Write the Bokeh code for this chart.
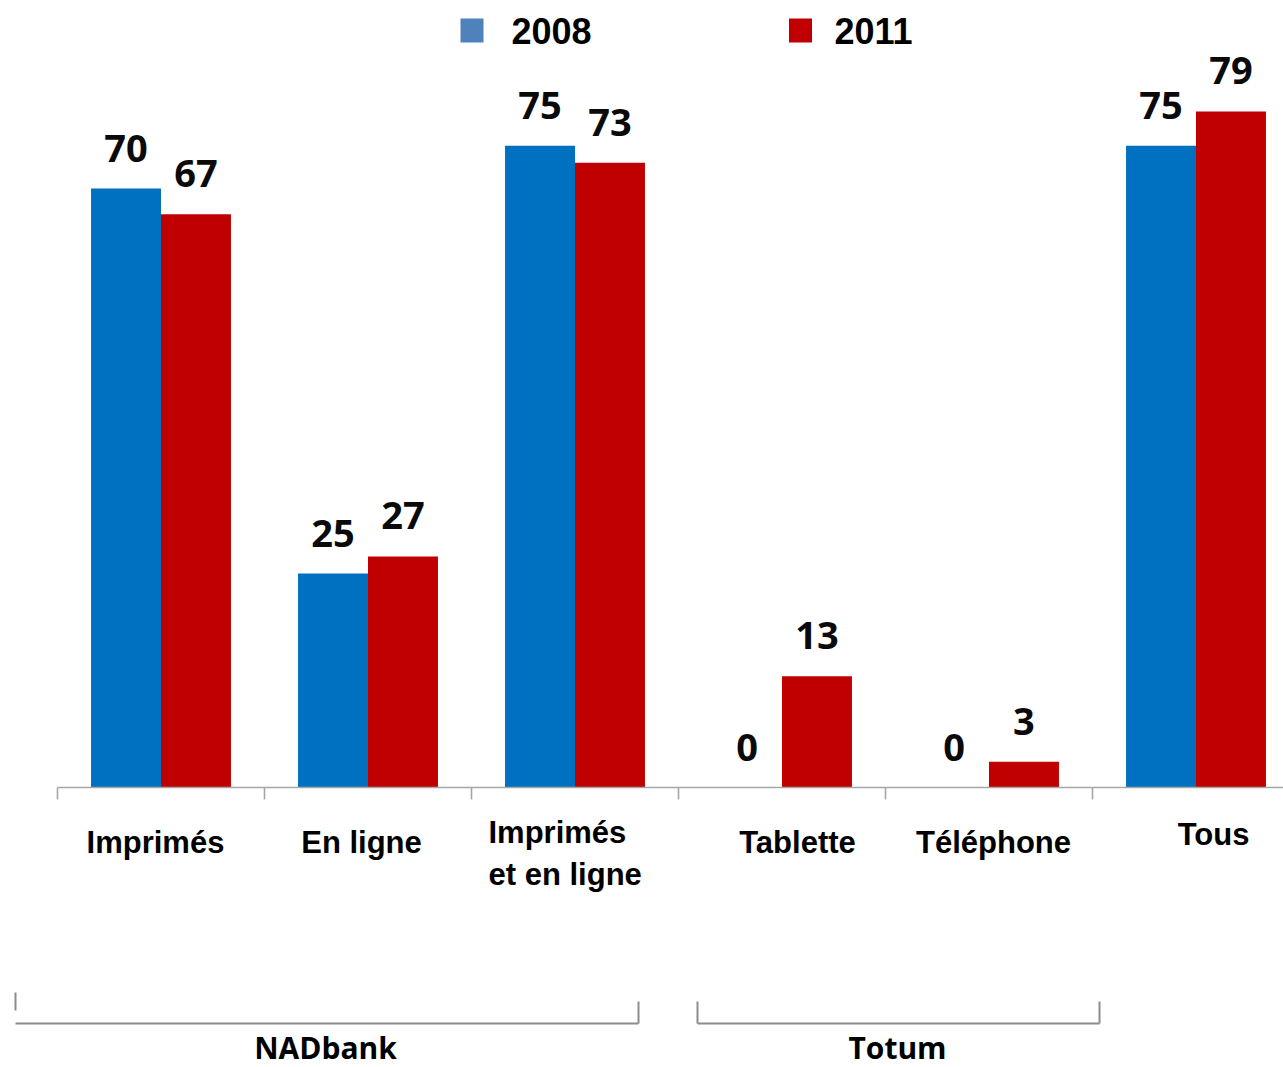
from bokeh.plotting import figure
from bokeh.models import Range1d, ColumnDataSource
from bokeh.core.properties import value
from bokeh.embed import file_html
from bokeh.resources import INLINE

# Readership (%) by platform, 2008 vs 2011
categories = ["Imprimés", "En ligne", "Imprimés\net en ligne", "Tablette", "Téléphone", "Tous"]
values_2008 = [70, 25, 75, 0, 0, 75]
values_2011 = [67, 27, 73, 13, 3, 79]
series_names = ["2008", "2011"]
groups = ["NADbank", "Totum"]

BLUE = "#0070C0"
RED = "#C00000"
GREY = "#A6A6A6"

W, H = 1283, 1067
# canvas geometry: category width in px, left edge of first category, baseline and scale
CAT_PX = 207.0
LEFT_PX = 57.0
BASE_PX = 787.0
PX_PER_UNIT = 8.557


def X(px):
    return (px - LEFT_PX) / CAT_PX


def Y(px):
    return (BASE_PX - px) / PX_PER_UNIT


p = figure(width=W, height=H, output_backend="svg", toolbar_location=None,
           x_range=Range1d(X(0), X(W)), y_range=Range1d(Y(H), Y(0)),
           min_border=0, min_border_left=0, min_border_right=0,
           min_border_top=0, min_border_bottom=0)
p.axis.visible = False
p.grid.visible = False
p.outline_line_color = None
p.background_fill_color = "white"
p.border_fill_color = "white"

n = len(categories)
bw = 0.338
centers = [i + 0.5 for i in range(n)]
x08 = [c - bw / 2 for c in centers]
x11 = [c + bw / 2 for c in centers]

src = ColumnDataSource(dict(x08=x08, x11=x11, v08=values_2008, v11=values_2011,
                            t08=[str(v) for v in values_2008],
                            t11=[str(v) for v in values_2011]))

p.vbar(x="x08", top="v08", bottom=0, width=bw, source=src, fill_color=BLUE, line_color=None)
p.vbar(x="x11", top="v11", bottom=0, width=bw, source=src, fill_color=RED, line_color=None)

# value labels above bars
for xk, vk, tk in (("x08", "v08", "t08"), ("x11", "v11", "t11")):
    p.text(x=xk, y=vk, text=tk, source=src, y_offset=-27,
           text_align="center", text_baseline="bottom",
           text_font=value("Open Sans"), text_font_style="bold",
           text_font_size="38px", text_color="#0a0a0a")

# category axis line and tick marks
p.segment(x0=[0], y0=[0], x1=[X(W)], y1=[0], line_color=GREY, line_width=1.6)
p.segment(x0=list(range(n + 1)), y0=[0] * (n + 1), x1=list(range(n + 1)),
          y1=[Y(799)] * (n + 1), line_color=GREY, line_width=1.6)

# category labels
label_x = [X(155), X(361), X(488), X(797), X(993), X(1213)]
label_y = [Y(842), Y(842), Y(853), Y(842), Y(842), Y(834)]
label_align = ["center", "center", "left", "center", "center", "center"]
p.text(x=label_x, y=label_y, text=categories, text_align=label_align,
       text_baseline="middle", text_font=value("Liberation Sans"),
       text_font_style="bold", text_font_size="31px", text_color="black",
       text_line_height=1.2)

# group brackets
bracket_color = "#8C8C8C"
p.segment(x0=[X(15), X(15), X(638), X(697), X(697), X(1099)],
          y0=[Y(992), Y(1023), Y(1001), Y(1001), Y(1023), Y(1001)],
          x1=[X(15), X(638), X(638), X(697), X(1099), X(1099)],
          y1=[Y(1010), Y(1023), Y(1023), Y(1023), Y(1023), Y(1023)],
          line_color=bracket_color, line_width=2)
p.text(x=[X(325), X(897)], y=[Y(1047), Y(1047)], text=groups,
       text_align="center", text_baseline="middle",
       text_font=value("Open Sans"), text_font_style="bold",
       text_font_size="30px", text_color="black")

# legend
p.rect(x=[X(471.5), X(800)], y=[Y(30), Y(30)], width=23, height=24,
       width_units="screen", height_units="screen",
       fill_color=["#4F81BD", RED], line_color=None)
p.text(x=[X(511), X(834)], y=[Y(30), Y(30)], text=series_names,
       text_align="left", text_baseline="middle",
       text_font=value("Liberation Sans"), text_font_style="bold",
       text_font_size="36px", text_color="black")

open("out.html", "w").write(file_html(p, INLINE))
